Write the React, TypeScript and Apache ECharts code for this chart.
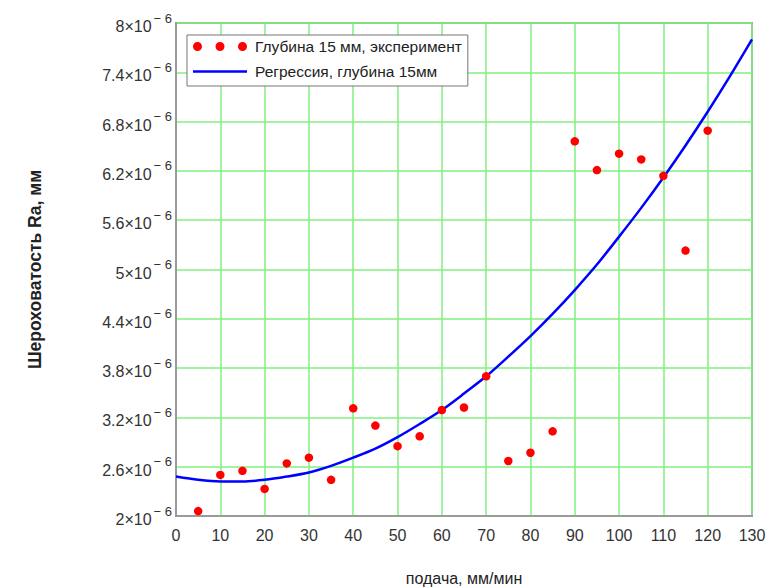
import React, { useEffect, useRef } from "react";
import * as echarts from "echarts";

// Experimental points: feed (mm/min) and roughness Ra (in units of 10^-6 mm)
const feedExp = [5, 10, 15, 20, 25, 30, 35, 40, 45, 50, 55, 60, 65, 70, 75, 80, 85, 90, 95, 100, 105, 110, 115, 120];
const raExp = [2.06, 2.5, 2.55, 2.33, 2.64, 2.71, 2.44, 3.31, 3.1, 2.85, 2.97, 3.29, 3.32, 3.7, 2.67, 2.77, 3.03, 6.56, 6.21, 6.41, 6.34, 6.14, 5.23, 6.69];

// Regression curve
const feedReg = [0, 5, 10, 15, 20, 25, 30, 35, 40, 45, 50, 55, 60, 65, 70, 75, 80, 85, 90, 95, 100, 105, 110, 115, 120, 125, 130];
const raReg = [2.48, 2.44, 2.42, 2.42, 2.44, 2.48, 2.53, 2.61, 2.71, 2.82, 2.96, 3.12, 3.29, 3.49, 3.7, 3.94, 4.19, 4.46, 4.75, 5.06, 5.4, 5.75, 6.12, 6.51, 6.92, 7.35, 7.8];

const yTicks = [2, 2.6, 3.2, 3.8, 4.4, 5, 5.6, 6.2, 6.8, 7.4, 8];

const expName = "Глубина 15 мм, эксперимент";
const regName = "Регрессия, глубина 15мм";
const xName = "подача, мм/мин";
const yName = "Шероховатость Ra, мм";

const FONT = "'Liberation Sans', Arial, sans-serif";

export default function App() {
  const ref = useRef<HTMLDivElement>(null);
  useEffect(() => {
    if (!ref.current) return;
    const chart = echarts.init(ref.current, undefined, { renderer: "svg" });
    const gridColor = "#80f080";
    const frame = "#9a9a9a";
    chart.setOption({
      animation: false,
      backgroundColor: "#ffffff",
      grid: {
        left: 176,
        right: 17,
        top: 23,
        bottom: 71,
        show: true,
        borderColor: frame,
        borderWidth: 2,
        containLabel: false,
        outerBoundsMode: "none",
      },
      legend: {
        orient: "vertical",
        left: 187,
        top: 35,
        backgroundColor: "#ffffff",
        borderColor: "#777777",
        borderWidth: 1,
        borderRadius: 0,
        padding: [3, 6, 6, 6],
        itemWidth: 54,
        itemHeight: 9,
        itemGap: 8,
        symbolKeepAspect: true,
        textStyle: { fontFamily: FONT, fontSize: 15.5, color: "#222", lineHeight: 17, padding: [0, 0, 0, 3] },
        data: [
          {
            name: expName,
            icon:
              "path://M0,4.5a4.5,4.5 0 1,0 9,0a4.5,4.5 0 1,0 -9,0ZM22.5,4.5a4.5,4.5 0 1,0 9,0a4.5,4.5 0 1,0 -9,0ZM45,4.5a4.5,4.5 0 1,0 9,0a4.5,4.5 0 1,0 -9,0Z",
          },
          { name: regName, icon: "path://M0,0H54V2.6H0Z" },
        ],
      },
      xAxis: {
        type: "value",
        min: 0,
        max: 130,
        interval: 10,
        name: xName,
        nameLocation: "middle",
        nameGap: 54,
        nameTextStyle: { fontFamily: FONT, fontSize: 16, color: "#222" },
        axisLine: { show: true, lineStyle: { color: frame, width: 2 } },
        axisTick: { show: false },
        axisLabel: { fontFamily: FONT, fontSize: 16, color: "#333", margin: 11 },
        splitLine: { show: true, lineStyle: { color: gridColor, width: 1.5 } },
      },
      yAxis: {
        type: "value",
        min: 2,
        max: 8,
        interval: 0.6,
        name: yName,
        nameLocation: "middle",
        nameGap: 132,
        nameTextStyle: { fontFamily: FONT, fontSize: 17.5, fontWeight: "bold", color: "#222" },
        axisLine: { show: true, lineStyle: { color: frame, width: 2 } },
        axisTick: { show: false, customValues: yTicks },
        axisLabel: {
          customValues: yTicks,
          margin: 4,
          formatter: (v: number) => `{a|${Math.round(v * 10) / 10}×10}{b|− 6}`,
          rich: {
            a: { fontFamily: FONT, fontSize: 16, color: "#333", verticalAlign: "bottom", lineHeight: 17 },
            b: { fontFamily: FONT, fontSize: 13, color: "#333", verticalAlign: "bottom", padding: [0, 0, 10, 2] },
          },
        },
        splitLine: { show: true, lineStyle: { color: gridColor, width: 1.5 } },
      },
      series: [
        {
          name: regName,
          type: "line",
          data: feedReg.map((x, i) => [x, raReg[i]]),
          smooth: 0.3,
          symbol: "none",
          lineStyle: { color: "#0000ff", width: 2.5 },
          itemStyle: { color: "#0000ff" },
          z: 2,
        },
        {
          name: expName,
          type: "scatter",
          data: feedExp.map((x, i) => [x, raExp[i]]),
          symbol: "circle",
          symbolSize: 8.5,
          itemStyle: { color: "#ff0000", opacity: 1 },
          z: 3,
        },
      ],
    });
    return () => chart.dispose();
  }, []);
  return <div ref={ref} style={{ width: 769, height: 587, position: "absolute", left: 0, top: 0 }} />;
}
